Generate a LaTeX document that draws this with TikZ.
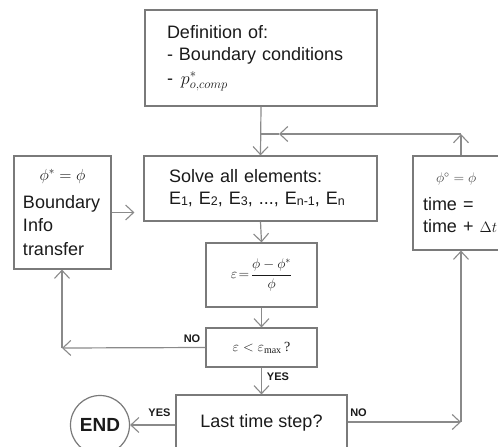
\RequirePackage{fix-cm}
\documentclass[tikz,border=0pt]{standalone}
\usepackage{fontspec}
\setmainfont{Liberation Sans}
\newfontfamily\serifrm{Liberation Serif}
\usetikzlibrary{arrows.meta}
\definecolor{linegray}{HTML}{8A8A8A}
\definecolor{boxgray}{HTML}{7A7A7A}
\definecolor{txt}{HTML}{1A1A1A}
\newcommand{\lowsub}[1]{\raisebox{-1pt}{\fontsize{12.5}{12.5}\selectfont #1}}
\newcommand{\maxsub}{\mbox{\serifrm\fontsize{10}{10}\selectfont max}}
\begin{document}
\begin{tikzpicture}[x=1pt,y=-1pt,
  box/.style={draw=boxgray, line width=1.2pt, inner ysep=0pt, text=txt,
    font=\fontsize{18}{22}\selectfont, align=left},
  conn/.style={draw=linegray, line width=1.2pt},
  arr/.style={conn, -{Straight Barb[length=8pt,width=15pt,line width=1.1pt]}},
  lbl/.style={font=\fontsize{11}{11}\selectfont\bfseries, text=txt, inner sep=0pt}
]
\useasboundingbox (0,0) rectangle (498,447);
\clip (0,0) rectangle (498,447);

% boxes
\node[box, minimum width=232pt, minimum height=96pt, text width=188pt, inner xsep=22pt] (def) at (261,58)
  {\mbox{Definition of:}\\\mbox{- Boundary conditions}\\[2pt]\mbox{-\hspace{8pt}{\fontsize{18}{18}\selectfont$p^{*}_{o,comp}$}}};
\node[box, minimum width=233pt, minimum height=65pt, text width=183pt, inner xsep=25pt] (solve) at (260.5,188.5)
  {\mbox{Solve all elements:}\\\mbox{E\lowsub{1}, E\lowsub{2}, E\lowsub{3}, ..., E\lowsub{n-1}, E\lowsub{n}}};
\node[box, minimum width=97pt, minimum height=113pt, text width=79pt, inner xsep=9pt] (bnd) at (62.5,212.5)
  {\makebox[79pt]{\fontsize{16}{16}\selectfont$\phi^{*}=\phi$}\\[6pt]\mbox{Boundary}\\[1.5pt]\mbox{Info}\\[1.5pt]\mbox{transfer}};
\node[box, minimum width=96pt, minimum height=94pt, text width=76pt, inner xsep=10pt] (tstep) at (461,203)
  {\makebox[76pt][l]{\hspace{13pt}\textcolor{darkgray}{\fontsize{14}{14}\selectfont$\phi^{\circ}=\phi$}}\\[6pt]\mbox{time =}\\\mbox{time + {\fontsize{15}{15}\selectfont$\Delta t$}}};
\node[box, minimum width=111pt, minimum height=64pt, align=center, font=\fontsize{14}{14}\selectfont] (eps) at (261.5,275)
  {$\displaystyle\varepsilon\!=\!\frac{\phi-\phi^{*}}{\phi}$};
\node[box, minimum width=111pt, minimum height=39pt, align=center, font=\fontsize{14}{14}\selectfont] (cond) at (261.5,347.5)
  {$\varepsilon<\varepsilon_{\maxsub}\,${\serifrm ?}};
\node[box, minimum width=171pt, minimum height=55pt, align=center] (last) at (261.5,422.5)
  {Last time step?};
\node[draw=boxgray, line width=1.2pt, circle, minimum size=59pt, inner sep=0pt, text=txt,
  font=\fontsize{19}{19}\selectfont\bfseries] (end) at (100,425) {END};

% helper coordinates
\coordinate (rtop) at (461,134);
\coordinate (rmid) at (279,134);
\coordinate (rjoin) at (261,134);
\coordinate (lcorner) at (62,348);
\coordinate (rcorner) at (461,422);

% connectors
\draw[arr] (def.south) -- (solve.north);
\draw[arr] (tstep.north) -- (rtop);
\draw[arr] (rtop) -- (rmid);
\draw[conn] (rmid) -- (rjoin);
\draw[arr] (solve.south) -- (eps.north);
\draw[arr] (eps.south) -- (cond.north);
\draw[arr] (cond.south) -- (last.north);
\draw[arr] (cond.west) -- (lcorner);
\draw[arr] (lcorner) -- (bnd.south -| lcorner);
\draw[arr, shorten >=9pt] (bnd.east) -- (solve.west |- bnd.east);
\draw[arr] (last.west |- end.east) -- (end.east);
\draw[arr] (last.east |- rcorner) -- (rcorner);
\draw[arr] (rcorner) -- (tstep.south);

% labels
\node[lbl] (no1) at (192,339) {NO};
\node[lbl] (yes1) at (278,377) {YES};
\node[lbl] (yes2) at (159.5,413) {YES};
\node[lbl] (no2) at (358.5,413) {NO};
\end{tikzpicture}
\end{document}
